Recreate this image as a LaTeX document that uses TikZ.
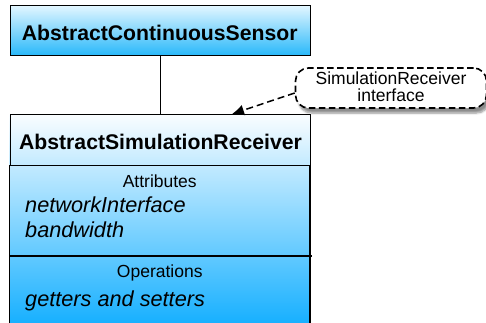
\documentclass[tikz,border=0pt]{standalone}
\usepackage{fontspec}
\setmainfont{Liberation Sans}
\usetikzlibrary{arrows.meta,shadows.blur}

\definecolor{boxtop}{RGB}{226,246,255}
\definecolor{boxbottom}{RGB}{40,184,250}
\definecolor{recvtop}{RGB}{250,253,255}
\definecolor{recvbottom}{RGB}{0,168,255}

\tikzset{
  titletext/.style={font=\fontsize{21.2}{25}\selectfont\bfseries, anchor=base, inner sep=0pt},
  sectiontext/.style={font=\fontsize{17.5}{21}\selectfont, anchor=base, inner sep=0pt},
  membertext/.style={font=\fontsize{21.7}{25}\selectfont\itshape, anchor=base west, inner sep=0pt},
  notetext/.style={font=\fontsize{17.5}{19}\selectfont, align=center, inner sep=0pt},
  border/.style={draw=black, line width=1.3pt},
  notebox/.style={draw=black, fill=white, line width=1.6pt, dash pattern=on 6.5pt off 3.5pt,
    rounded corners=13pt, minimum width=191pt, minimum height=40pt,
    blur shadow={shadow xshift=3pt, shadow yshift=-5pt, shadow blur steps=6, shadow opacity=45}},
  link/.style={draw=black, line width=1.3pt},
  realize/.style={draw=black, line width=1.5pt, dash pattern=on 7pt off 4pt,
    -{Latex[length=12pt, width=11pt]}}
}

\begin{document}
\begin{tikzpicture}[x=1pt, y=-1pt]
  \useasboundingbox (0,0) rectangle (486,322);
  \begin{scope}
    \clip (0,0) rectangle (486,322);

    % upper class box
    \node[border, top color=boxtop, bottom color=boxbottom, minimum width=300.5pt,
      minimum height=50pt, inner sep=0pt, anchor=north west] (sensor) at (9.5,5) {};
    \node[titletext] (sensortitle) at (159.75,40) {AbstractContinuousSensor};

    % lower class box: one gradient across all compartments
    \fill[top color=recvtop, bottom color=recvbottom] (9.5,114) rectangle (310,345);
    \node[border, minimum width=300.5pt, minimum height=51pt, inner sep=0pt,
      anchor=north west] (receiver) at (9.5,114) {};
    \draw[border] (9.5,165) -- (9.5,345) (310,165) -- (310,345);
    \draw[border] (9.5,256) -- (312,256);
    \node[titletext] (receivertitle) at (160.5,149) {AbstractSimulationReceiver};

    % attributes compartment
    \node[sectiontext] (attrhead) at (159.75,187) {Attributes};
    \node[membertext] (attr1) at (25,212.7) {networkInterface};
    \node[membertext] (attr2) at (25,237.7) {bandwidth};

    % operations compartment
    \node[sectiontext] (ophead) at (159.75,277) {Operations};
    \node[membertext] (op1) at (25,306) {getters and setters};

    % note
    \node[notebox] (note) at (391,88) {};
    \node[notetext, anchor=base] (noteline1) at (391,84) {SimulationReceiver};
    \node[notetext, anchor=base] (noteline2) at (391,101.7) {interface};
    \coordinate (tip) at (232,114);

    % connectors
    \draw[link] (sensor.south) -- (receiver.north);
    \draw[realize] ([yshift=-5pt]note.west) -- (tip);
  \end{scope}
\end{tikzpicture}
\end{document}
